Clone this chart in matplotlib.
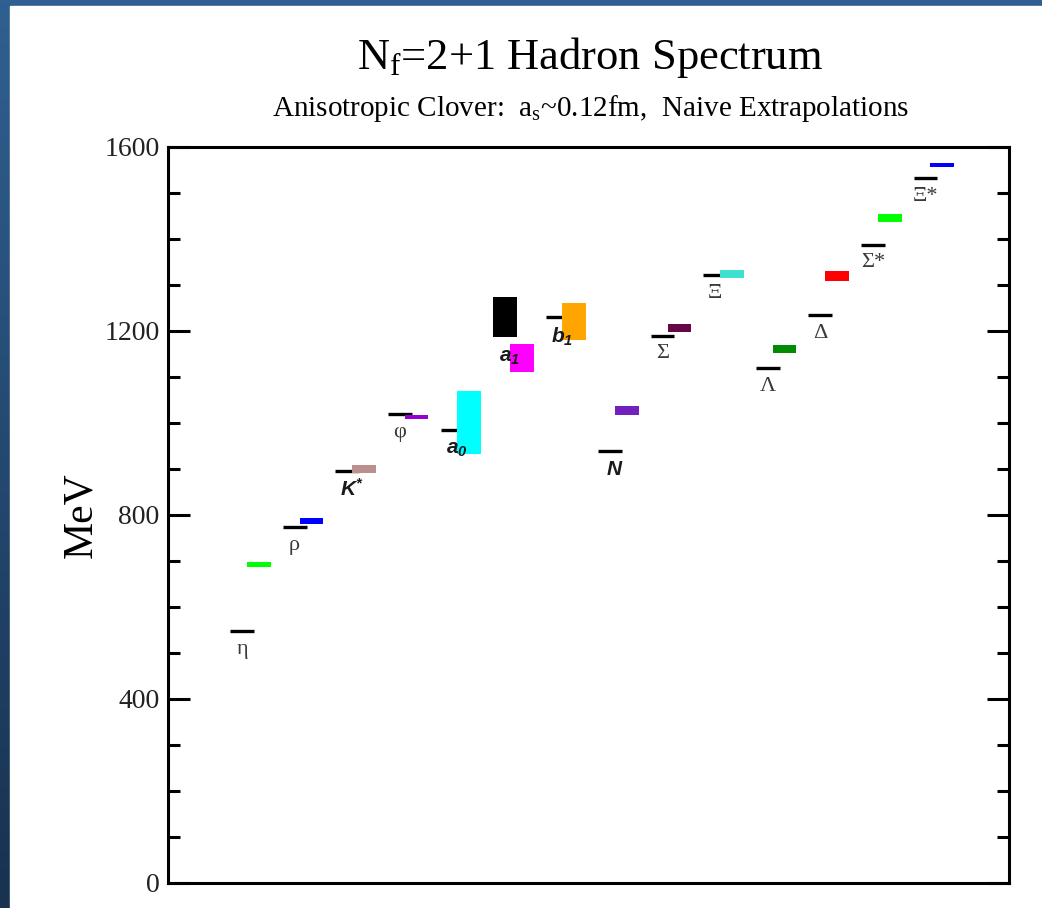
import numpy as np
import matplotlib.pyplot as plt
from matplotlib.patches import Rectangle

plt.rcParams['mathtext.fontset'] = 'custom'
plt.rcParams['mathtext.rm'] = 'Liberation Serif'
plt.rcParams['mathtext.it'] = 'Liberation Serif:italic'
plt.rcParams['mathtext.bf'] = 'Liberation Sans:italic:bold'

# channels, left to right
labels = ['η', 'ρ', r'$\mathbf{K}^{\mathbf{*}}$', 'φ', r'$\mathbf{a}_{\mathbf{0}}$',
          r'$\mathbf{a}_{\mathbf{1}}$', r'$\mathbf{b}_{\mathbf{1}}$', r'$\mathbf{N}$',
          'Σ', 'Ξ', 'Λ', 'Δ', 'Σ*', 'Ξ*']
greek = [True, True, False, True, False, False, False, False,
         True, True, True, True, True, True]

# experiment (black): mass and half-height of band, MeV
expt_mass = [548, 773, 896, 1020, 985, 1230, 1230, 939, 1190, 1321, 1119, 1234, 1388, 1533]
expt_err = [0, 0, 0, 0, 0, 44, 0, 0, 0, 0, 0, 0, 0, 0]

# lattice, naive extrapolation (coloured boxes)
latt_mass = [693, 787, 900, 1013, 1001, 1141, 1220, 1028, 1207, 1324, 1161, 1320, 1446, 1561]
latt_err = [5, 7, 8, 5, 68, 31, 40, 10, 9, 8, 9, 11, 9, 5]
latt_colors = ['#00ff00', '#0000ff', '#bc8f8f', '#9400d3', '#00ffff', '#ff00ff', '#ffa500',
               '#7221bc', '#670748', '#40e0d0', '#008b00', '#ff0000', '#00ff00', '#0000ff']

x = np.arange(len(labels)) + 1.41
w = 0.45
shift = 0.32

fig = plt.figure(figsize=(10.42, 9.08), dpi=100)

# blue frame behind the white page
bg = fig.add_axes([0, 0, 1, 1])
grad = np.linspace(0, 1, 256)[:, None]
top = np.array([48, 96, 145]) / 255
bot = np.array([24, 50, 80]) / 255
img = top[None, None, :] * (1 - grad[:, :, None]) + bot[None, None, :] * grad[:, :, None]
bg.imshow(img, aspect='auto', extent=[0, 1, 0, 1])
bg.add_patch(Rectangle((10 / 1042, 0), 1, 1 - 6 / 908, color='white'))
bg.set_xlim(0, 1)
bg.set_ylim(0, 1)
bg.axis('off')

ax = fig.add_axes([168 / 1042, 25 / 908, 841 / 1042, 736 / 908])
ax.set_xlim(0, 16)
ax.set_ylim(0, 1600)

for i in range(len(labels)):
    if expt_err[i] > 0:
        ax.bar(x[i], 2 * expt_err[i], bottom=expt_mass[i] - expt_err[i], width=w,
               color='black', zorder=2)
    else:
        ax.hlines(expt_mass[i], x[i] - w / 2, x[i] + w / 2, color='black', lw=2.4, zorder=2)
    ax.bar(x[i] + shift, 2 * latt_err[i], bottom=latt_mass[i] - latt_err[i], width=w,
           color=latt_colors[i], zorder=3)
    ly = expt_mass[i] - expt_err[i] - 40
    if greek[i]:
        ax.text(x[i], ly, labels[i], ha='center', va='center', fontsize=16,
                family='Liberation Serif', color='#3a3a3a', zorder=4)
    else:
        ax.text(x[i] + 0.08, ly, labels[i], ha='center', va='center', fontsize=15,
                color='#1a1a1a', zorder=4)

ax.set_yticks(np.arange(0, 1601, 400))
ax.set_yticks(np.arange(0, 1601, 100), minor=True)
ax.set_xticks([])
ax.tick_params(axis='y', which='both', direction='in', left=True, right=True,
               width=2.2, color='black', labelsize=20, labelcolor='#222222', pad=6)
ax.tick_params(axis='y', which='major', length=16)
ax.tick_params(axis='y', which='minor', length=8.5)
for lab in ax.get_yticklabels():
    lab.set_family('Liberation Serif')
for s in ax.spines.values():
    s.set_linewidth(2.2)

ax.set_ylabel('MeV', family='Liberation Serif', fontsize=30, labelpad=3)

fig.text(590 / 1042, 1 - 57 / 908, r'N$_{\rm f}$=2+1 Hadron Spectrum', ha='center', va='center',
         family='Liberation Serif', fontsize=32)
fig.text(591 / 1042, 1 - 109 / 908,
         r'Anisotropic Clover:  a$_{\rm s}$~0.12fm,  Naive Extrapolations',
         ha='center', va='center', family='Liberation Serif', fontsize=21)

fig.savefig('out.png', dpi=100)
